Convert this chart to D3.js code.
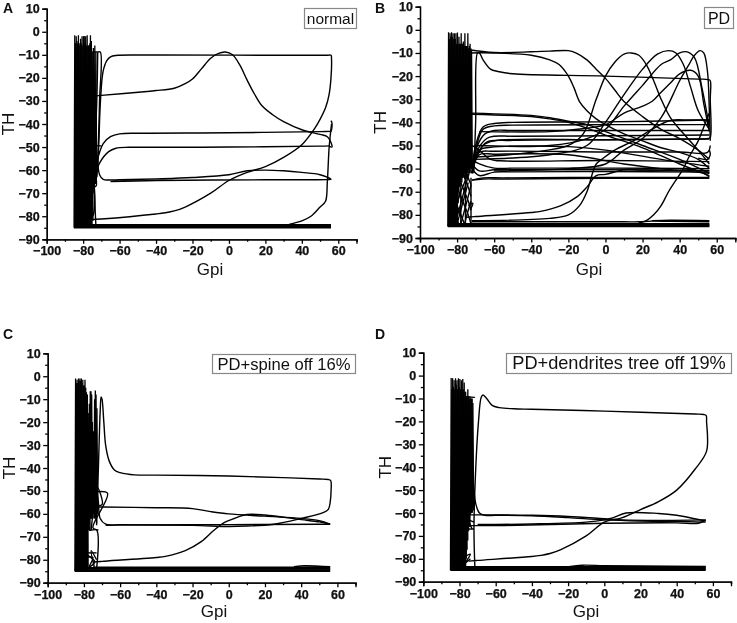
<!DOCTYPE html>
<html>
<head>
<meta charset="utf-8">
<script src="https://cdnjs.cloudflare.com/ajax/libs/d3/7.8.5/d3.min.js"></script>
<style>
    html, body { margin: 0; padding: 0; background: #fff; }
    svg { display: block; filter: blur(0.35px); }
    text { font-family: 'Liberation Sans', Arial, sans-serif; fill: #111; }
</style>
</head>
<body>
<svg id="canvas"></svg>
<script>
let width = 737
let height = 623

// ticks
let xMajor = [-100, -80, -60, -40, -20, 0, 20, 40, 60]
let xMinor = [-90, -70, -50, -30, -10, 10, 30, 50, 70]
let yMajor = [10, 0, -10, -20, -30, -40, -50, -60, -70, -80, -90]
let yMinor = [5, -5, -15, -25, -35, -45, -55, -65, -75, -85]

// spikes are [x, top, bottom]
let spikesA = [[-85,-1.5,-85],[-84.6,-5,-85],[-84.2,-2,-85],[-83.8,-4,-85],[-83.4,-5,-85],[-83,-1.5,-85],[-82.6,-5,-85],[-82.2,-6,-85],[-81.8,-3,-85],[-81.4,-5,-85],[-81,-2,-85],[-80.6,-6,-85],[-80.2,-2,-85],[-79.8,-1.8,-85],[-79.4,-5,-85],[-79,-2,-85],[-78.6,-6,-85],[-78.2,-1.5,-85],[-77.8,-6,-85],[-77.4,-6,-85],[-77,-6,-85],[-76.7,-5,-85],[-76.4,-1.5,-85],[-75.9,-4,-84],[-75.4,-9,-82],[-74.8,-7,-70],[-74,-6,-66],[-73.4,-9,-60]]
let spikesB = [[-85,-1,-85],[-84.6,-4,-85],[-84.2,-1.5,-85],[-83.8,-3,-85],[-83.4,-1,-85],[-83,-3,-85],[-82.6,-1.5,-85],[-82.2,-4,-85],[-81.8,-1.5,-85],[-81.4,-4,-85],[-81,-1.5,-85],[-80.6,-6,-85],[-80.2,-1.2,-75],[-79.8,-6,-70],[-79.4,-3,-68],[-79,-6,-66],[-78.6,-6,-64],[-78.2,-1.5,-66],[-77.8,-6,-64],[-77.4,-6,-62],[-77,-5,-64],[-76.6,-7,-62],[-76.2,-1.5,-62],[-75.8,-7,-64],[-75.4,-7,-62],[-75,-7,-62],[-74.6,-1.5,-60],[-74.2,-8,-62],[-73.8,-7,-60],[-73.4,-6,-62],[-73,-8,-60],[-72.6,-9,-58]]
let spikesC = [[-85,-1,-85],[-84.6,-3,-85],[-84.2,-1.5,-85],[-83.8,-3,-85],[-83.4,-1,-85],[-83,-2,-85],[-82.6,-1,-85],[-82.2,-2,-85],[-81.8,-1,-85],[-81.4,-3,-85],[-81,-1.5,-85],[-80.6,-4,-85],[-80.2,-4,-85],[-79.8,-1.5,-85],[-79.4,-5,-85],[-79,-7,-85],[-78.5,-8,-85],[-78,-16,-67],[-77.4,-12,-67],[-76.9,-6.5,-62],[-76.5,-6.5,-62],[-76.1,-8,-62],[-75.7,-20,-60],[-75,-24,-60],[-74.5,-10,-62],[-74.1,-6.2,-62],[-73.7,-8,-60],[-73.2,-14,-60]]
let spikesD = [[-85,-1,-85],[-84.6,-6,-85],[-84.2,-1.2,-85],[-83.8,-5,-85],[-83.4,-2,-85],[-83,-6,-85],[-82.6,-1.2,-85],[-82.2,-4,-85],[-81.8,-2,-85],[-81.4,-6,-85],[-81,-1.2,-85],[-80.6,-5,-85],[-80.2,-1.5,-85],[-79.8,-6,-85],[-79.4,-2,-85],[-79,-7,-85],[-78.6,-1.5,-85],[-78.2,-6,-85],[-77.8,-3,-85],[-77.4,-7,-84],[-77,-7,-80],[-76.6,-9,-76],[-76.2,-9,-72],[-75.8,-6,-68],[-75.4,-9,-66],[-75,-10,-66],[-74.6,-9,-60],[-74.2,-10,-60],[-73.8,-10,-60],[-73.4,-10,-58],[-73,-12,-58]]

// thin loops on top of the dense band
let curvesA = [
    [[-73,-84],[-74,-60],[-72.5,-30],[-72,-9]],
    [[-76,-8.8],[-72,-8.8],[-70.6,-8.8],[-71,-30],[-72,-55],[-73,-66]],
    [[-72.5,-63],[-71.5,-50],[-70.5,-30],[-69,-17],[-67,-12.5],[-65,-10.9],[-62,-10.3],[-50,-10.1],[-40,-10.1],[45,-10.2],[54,-10.2],[56,-10.2],[56.3,-12],[56,-20],[55,-27],[53,-33],[50,-38],[47,-42],[40,-49],[30,-54.5],[20,-58.5],[10,-61],[0,-64.5],[-10,-70],[-24,-76],[-30,-77.7],[-35,-78.5],[-40,-79],[-70,-81.2],[-76,-81.5]],
    [[-76,-28],[-70,-27.6],[-45,-25.9],[-40,-25.5],[-30,-24.5],[-24,-22.5],[-20,-20.5],[-15,-16],[-10,-11.5],[-6,-9.5],[-2,-8.8],[2,-10],[6,-14.5],[10,-21],[14,-27],[18,-32],[24,-36],[30,-39],[40,-42.5],[50,-44.5],[54,-45.5],[56,-48],[56.5,-50],[55,-49.6]],
    [[-74,-62],[-72,-55],[-69,-48.5],[-65,-45.5],[-60,-44.3],[-50,-44],[0,-43.8],[50,-43.3],[55,-43.2],[56,-43.2],[56.5,-39.5],[56,-38.5]],
    [[-74,-64],[-71,-57],[-66,-52],[-62,-50.5],[-55,-50.1],[-45,-50.1],[0,-50],[50,-49.6],[55,-49.5]],
    [[-72,-55],[-71,-62],[-69,-64],[-66,-64.3],[-60,-64.2],[-40,-63.8],[-20,-63.2],[0,-62],[10,-60.3],[20,-60],[30,-60.3],[40,-61],[50,-62],[56,-64],[54,-64.1],[20,-64.2],[-40,-64.5],[-65,-65]],
    [[33,-83.5],[40,-82],[45,-80],[50,-76],[53,-73.5],[54,-65],[55,-50],[56.3,-40]],
    [[-78,-67],[-73,-67],[-74,-60]],
    [[-80,-79.5],[-75,-80],[-74,-66]],
    [[-80,-78],[-75,-60],[-73,-50],[-76,-49.5],[-70,-49.5]],
    [[-85,-85],[56,-85]], [[-85,-84.8],[56,-84.8]], [[-85,-84.5],[56,-84.5]], [[-85,-84.2],[56,-84.2]], [[-85,-84],[56,-84]], [[-85,-83.7],[56,-83.7]]
]
let curvesB = [
    [[-74,-8.5],[-60,-9.8],[-40,-9.5],[-30,-9.2],[-20,-9],[-16,-10],[-10,-13],[-5,-17],[0,-21],[5,-26],[10,-31],[20,-37.5],[30,-43],[40,-47],[50,-52],[56,-56]],
    [[-71,-62],[-70,-40],[-69,-10],[-68,-10],[-66,-13],[-62,-17],[-58,-18],[-50,-19],[0,-20],[50,-21.3],[55.5,-21.5],[56.5,-22],[56.5,-30],[56.5,-46.5],[55.5,-47],[50,-47.2],[0,-47.5],[-60,-48],[-66,-50],[-71,-58]],
    [[-74,-10],[-60,-10],[-40,-11],[-30,-13],[-25,-15],[-20,-20],[-17,-25],[-14,-31],[-10,-35],[-5,-38.5],[0,-41],[10,-45],[20,-48],[30,-51],[40,-53],[50,-56],[56,-60]],
    [[-70,-55],[-40,-53],[-20,-50],[-12,-45],[-5,-30],[0,-20],[5,-14],[10,-10.5],[14,-10],[18,-11],[22,-15],[26,-22],[30,-30],[35,-38],[40,-43],[50,-52],[56,-58]],
    [[-70,-56],[-30,-54],[-10,-50],[0,-40],[10,-28],[20,-17],[28,-10.5],[34,-9],[38,-10],[42,-15],[46,-25],[50,-35],[56,-43]],
    [[-70,-50],[-30,-50],[-10,-47],[0,-43],[10,-33],[20,-24],[30,-15],[35,-13],[40,-10],[44,-9.5],[48,-12],[52,-25],[56,-42]],
    [[-60,-61],[-20,-60],[0,-58],[10,-52],[20,-47],[30,-38],[40,-22],[45,-15],[48,-11],[51,-9],[53,-10],[55,-18],[56,-35],[56.5,-48]],
    [[-68,-44],[-30,-44],[-15,-43],[0,-41],[10,-36],[20,-33],[25,-31],[30,-27],[35,-23],[40,-19],[46,-17.5],[50,-20],[53,-32],[56,-44]],
    [[-75,-81],[-70,-80.7],[-40,-79],[-35,-78.5],[-24,-76],[-15,-72],[-10,-68],[-5,-63],[0,-62.5],[10,-60.5],[20,-60.6],[56,-61]],
    [[-72,-82.5],[-30,-81.5],[-20,-80],[-14,-76],[-10,-70],[-7,-62],[-5,-58],[-2,-56],[5,-52],[15,-48],[25,-43],[35,-39.2],[45,-39],[56,-39]],
    [[18,-83.5],[22,-82.5],[26,-80],[30,-76],[34,-70],[38,-65],[42,-60],[45,-55],[50,-48],[53,-42],[56,-36]],
    [[-72,-60],[-70,-50],[-66,-42],[-60,-40.5],[-50,-40],[0,-39.8],[56,-39]],
    [[-72,-62],[-70,-52],[-66,-43],[-60,-41.5],[-50,-41.2],[0,-41],[56,-41]],
    [[-72,-60],[-69,-50],[-65,-45],[-60,-43.5],[-50,-43.5],[0,-43.5],[56,-43.5]],
    [[-72,-60],[-69,-52],[-64,-47],[-60,-46],[-50,-46],[0,-45.8],[56,-45.5]],
    [[-72,-62],[-69,-54],[-64,-48.5],[-50,-47.8],[0,-47.5],[56,-47.2]],
    [[-72,-36],[-40,-37],[-30,-38],[-20,-39.5],[-10,-41],[0,-44],[20,-50],[40,-56],[56,-62]],
    [[-72,-36.5],[-40,-37.5],[-30,-38.5],[-20,-40],[-10,-42.5],[0,-45.5],[20,-51],[40,-58],[56,-63]],
    [[-72,-62],[-68,-52],[-62,-50.8],[-20,-50.5],[0,-52],[30,-56],[56,-59]],
    [[-72,-60],[-68,-53],[-60,-52.5],[0,-52.8],[40,-52.8],[55,-53],[56.5,-50]],
    [[-72,-62],[-68,-54],[-60,-53.8],[-20,-54],[10,-58],[30,-60],[56,-62]],
    [[-72,-50],[-68,-52],[-62,-56],[-54,-56.7],[0,-56.5],[56,-57]],
    [[-72,-56],[-68,-58],[-60,-59.8],[-50,-59.8],[0,-59.8],[56,-60]],
    [[-72,-58],[-68,-61],[-60,-60.5],[-50,-60.5],[0,-60.5],[56,-60.8]],
    [[-72,-60],[-68,-63],[-60,-61.5],[-50,-61.4],[0,-61.3],[56,-61.5]],
    [[-72,-65],[-66,-64],[-55,-64],[0,-63.8],[56,-63.8]],
    [[-72,-65],[-66,-64.5],[-55,-64.5],[0,-64.2],[56,-64.2]],
    [[56,-52],[56.5,-54],[55,-56],[50,-55.5]],
    [[40,-60],[50,-61],[56,-63.5]],
    [[-72,-83],[10,-83],[18,-83],[25,-82.7],[35,-82.8],[56,-83]],
    [[25,-82.5],[35,-82.3],[56,-82.5]],
    [[-85,-85],[56,-85]], [[-85,-84.7],[56,-84.7]], [[-85,-84.4],[56,-84.4]], [[-85,-84.1],[56,-84.1]], [[-85,-83.8],[56,-83.8]],
    // crossing lines at the foot of the band
    [[-81,-84],[-79,-78],[-77,-72],[-75,-66],[-73.5,-62]],
    [[-81,-78],[-78,-70],[-76,-66],[-74,-62]],
    [[-81,-72],[-79,-67],[-77,-62]],
    [[-80,-84],[-78,-78],[-76,-72],[-74,-66]],
    [[-78,-84],[-76,-78],[-74,-72],[-72.5,-67]],
    [[-76,-84],[-74,-78],[-72.5,-74]],
    [[-81,-66],[-78,-72],[-76,-76],[-74,-80],[-72.5,-84]],
    [[-79,-64],[-76,-70],[-74,-74],[-72.5,-78]],
    [[-81,-74],[-78,-80],[-76,-84]],
    [[-81,-81],[-79,-84]],
    [[-77,-62],[-74,-68],[-72.5,-72]],
    [[-75,-62],[-72.5,-67]],
    [[-74,-76],[-71.5,-75],[-73,-78]],
    [[-72.5,-85],[-72.5,-64]],
    [[-78,-84],[-78,-62]],
    [[-75.5,-84],[-75.5,-62]]
]
let curvesC = [
    [[-73,-65],[-72,-40],[-71,-15],[-70.5,-9],[-70,-10],[-69,-20],[-68,-30],[-66,-37],[-63,-41],[-60,-42],[-52,-43],[-40,-43.1],[0,-43.5],[30,-44.2],[50,-44.8],[55,-45],[56.3,-45.5],[56.5,-50],[56,-55],[55,-58],[52,-59.5],[40,-62],[25,-64.5],[10,-65.3],[0,-65.5],[-20,-65],[-60,-64.7],[-68,-64.5],[-71,-62],[-72,-55],[-73,-45],[-74,-30]],
    [[-75,-81],[-70,-80.7],[-40,-79],[-35,-78.5],[-24,-76],[-15,-72],[-8,-67],[-3,-64],[3,-62],[10,-60.3],[20,-60.5],[40,-62.5],[50,-63.5],[56,-64.5]],
    [[-75,-57],[-70,-57],[-40,-57.3],[-20,-57.7],[-10,-59],[0,-60],[20,-61],[40,-62],[50,-63],[56,-64.5]],
    [[-68,-65],[-60,-64.9],[0,-64.7],[50,-64.5],[56,-64.5]],
    [[-78,-51],[-67,-51],[-75,-66],[-72,-67]],
    [[-76,-56],[-70,-56],[-73,-48],[-77,-67],[-73,-67],[-73,-84]],
    [[-78,-67],[-78,-84]],
    [[-78,-77],[-73,-77]],
    [[-79,-79],[-75,-79],[-77,-83],[-74,-81],[-78,-78]],
    [[-74,-84],[-76,-76],[-73,-80]],
    [[-73,-64],[-74,-55],[-76,-67]],
    [[-85,-85],[56,-85]], [[-85,-84.7],[56,-84.7]], [[-85,-84.4],[56,-84.4]], [[-85,-84.1],[56,-84.1]], [[-85,-83.8],[56,-83.8]], [[-85,-83.5],[56,-83.5]], [[-75,-83.2],[30,-83.2],[40,-83.2],[56,-83]], [[36,-83],[42,-82.6],[50,-82.8],[56,-83]]
]
let curvesD = [
    [[-71.5,-84],[-72,-66],[-71,-40],[-69.5,-20],[-68,-9.5],[-67,-8.5],[-65,-10],[-62,-13],[-58,-14],[-50,-14.5],[-40,-14.7],[0,-15.5],[50,-16.8],[55,-17],[56.3,-17.5],[56.5,-20],[56.5,-33],[50,-41],[40,-50],[30,-55],[20,-58.5],[10,-62],[0,-64],[-10,-70],[-24,-76],[-30,-77.7],[-35,-78.5],[-40,-79],[-70,-80.7],[-75,-81]],
    [[-73,-40],[-72,-50],[-71,-56],[-69,-60],[-66,-61],[-60,-61],[-40,-61.2],[-20,-62],[0,-63],[20,-63.5],[40,-63.7],[56,-64]],
    [[-75,-60.8],[-70,-60.8],[-40,-61],[-20,-61.5],[0,-62.5],[10,-63],[30,-63.2],[56,-63]],
    [[-70,-65],[-60,-65],[-40,-64.8],[-10,-64],[0,-63],[5,-62],[12,-60],[30,-60.2],[40,-61],[50,-62.5],[56,-63.5]],
    [[-75,-65.5],[-70,-65.5],[-55,-65.5],[0,-64.5],[40,-64.3],[52,-64.5],[56,-63]],
    [[-76,-9.3],[-71.5,-9.5]],
    [[-77,-67],[-72,-67]],
    [[-77,-67],[-74,-60],[-72,-58],[-75,-62],[-73,-67]],
    [[-75,-63],[-72,-64]],
    [[-79,-80],[-74,-78],[-77,-82],[-74,-80]],
    [[-85,-85],[56,-85]], [[-85,-84.7],[56,-84.7]], [[-85,-84.4],[56,-84.4]], [[-85,-84.1],[56,-84.1]], [[-85,-83.8],[56,-83.8]], [[-85,-83.5],[56,-83.5]],
    [[-30,-83.7],[-20,-83.4],[-12,-82.8],[0,-83],[20,-83.1],[56,-83.3]]
]

let labelA = 'normal'
let labelB = 'PD'
let labelC = 'PD+spine off 16%'
let labelD = 'PD+dendrites tree off 19%'

let canvas = d3.select('#canvas')
canvas.attr('width', width)
canvas.attr('height', height)

let drawPanel = (p) => {
    let xScale = d3.scaleLinear().domain([-100, 70]).range([p.left, p.right])
    let yScale = d3.scaleLinear().domain([-90, 10]).range([p.bottom, p.top])

    let spikeLine = d3.line()
                .x((d) => xScale(d[0]))
                .y((d) => yScale(d[1]))

    let line = d3.line()
                .x((d) => xScale(d[0]))
                .y((d) => yScale(d[1]))
                .curve(d3.curveCatmullRom.alpha(0.5))

    let g = canvas.append('g')

    let spikeShape = (d) => [[d[0], d[2]], [d[0] + 0.4, d[1]], [d[0] + 0.8, d[2]]]

    g.selectAll('path.spike')
        .data(p.spikes)
        .enter()
        .append('path')
        .attr('class', 'spike')
        .attr('d', (d) => spikeLine(spikeShape(d)))
        .attr('fill', 'none')
        .attr('stroke', '#000')
        .attr('stroke-width', 1.3)

    g.selectAll('path.curve')
        .data(p.curves)
        .enter()
        .append('path')
        .attr('class', 'curve')
        .attr('d', line)
        .attr('fill', 'none')
        .attr('stroke', '#000')
        .attr('stroke-width', 1.4)
        .attr('stroke-linejoin', 'round')

    // minor ticks first, the major axis draws the labels
    let xMinorAxis = d3.axisBottom(xScale).tickValues(xMinor).tickSize(2.5).tickFormat('')
    let yMinorAxis = d3.axisLeft(yScale).tickValues(yMinor).tickSize(2.5).tickFormat('')
    let xAxis = d3.axisBottom(xScale).tickValues(xMajor).tickSize(4.5).tickPadding(2.5).tickFormat(d3.format('d'))
    let yAxis = d3.axisLeft(yScale).tickValues(yMajor).tickSize(4.5).tickPadding(2.5).tickFormat(d3.format('d'))

    let axes = [[xMinorAxis, 0, p.bottom], [yMinorAxis, p.left, 0], [xAxis, 0, p.bottom], [yAxis, p.left, 0]]
    axes.forEach((a) => {
        let ag = g.append('g')
                    .attr('transform', `translate(${a[1]}, ${a[2]})`)
                    .call(a[0])
        ag.selectAll('path, line').attr('stroke', '#000').attr('stroke-width', 1.3)
        ag.selectAll('text')
            .style('font-family', "'Liberation Sans', Arial, sans-serif")
            .style('font-size', '12.5px')
            .style('font-weight', 'bold')
            .attr('fill', '#000')
            .attr('stroke', '#000')
            .attr('stroke-width', 0.25)
    })

    g.append('text')
        .attr('x', p.gpiX)
        .attr('y', p.gpiY)
        .attr('text-anchor', 'middle')
        .style('font-size', '17px')
        .text('Gpi')

    g.append('text')
        .attr('transform', `translate(${p.thX}, ${yScale(-40)}) rotate(-90)`)
        .attr('text-anchor', 'middle')
        .style('font-size', '17px')
        .text('TH')

    g.append('text')
        .attr('x', p.letterX)
        .attr('y', p.letterY)
        .style('font-size', '14px')
        .style('font-weight', 'bold')
        .text(p.letter)

    g.append('rect')
        .attr('x', p.box[0])
        .attr('y', p.box[1])
        .attr('width', p.box[2])
        .attr('height', p.box[3])
        .attr('fill', '#fff')
        .attr('stroke', '#888')
        .attr('stroke-width', 1.2)

    g.append('text')
        .attr('x', p.box[0] + p.box[2] / 2)
        .attr('y', p.box[1] + p.box[3] / 2 + 5.5)
        .attr('text-anchor', 'middle')
        .style('font-size', p.labelSize)
        .text(p.label)
}

drawPanel({ left: 46.7, right: 356.5, top: 8.7, bottom: 239.3, spikes: spikesA, curves: curvesA, letter: 'A', letterX: 3, letterY: 13, label: labelA, box: [304.5, 8.5, 52, 20], labelSize: '15.5px', thX: 14, gpiX: 210, gpiY: 275 })
drawPanel({ left: 420, right: 735.3, top: 6.7, bottom: 238, spikes: spikesB, curves: curvesB, letter: 'B', letterX: 375, letterY: 13, label: labelB, box: [704.5, 7.5, 29, 21], labelSize: '16px', thX: 386, gpiX: 589, gpiY: 275 })
drawPanel({ left: 47.7, right: 355.5, top: 353.3, bottom: 582.7, spikes: spikesC, curves: curvesC, letter: 'C', letterX: 3, letterY: 339, label: labelC, box: [212.5, 354.5, 143, 19], labelSize: '16.6px', thX: 15, gpiX: 214, gpiY: 617 })
drawPanel({ left: 423.3, right: 731, top: 352.7, bottom: 581.7, spikes: spikesD, curves: curvesD, letter: 'D', letterX: 375, letterY: 339, label: labelD, box: [506.5, 353.5, 225, 20], labelSize: '18.2px', thX: 391, gpiX: 586, gpiY: 617 })
</script>
</body>
</html>
